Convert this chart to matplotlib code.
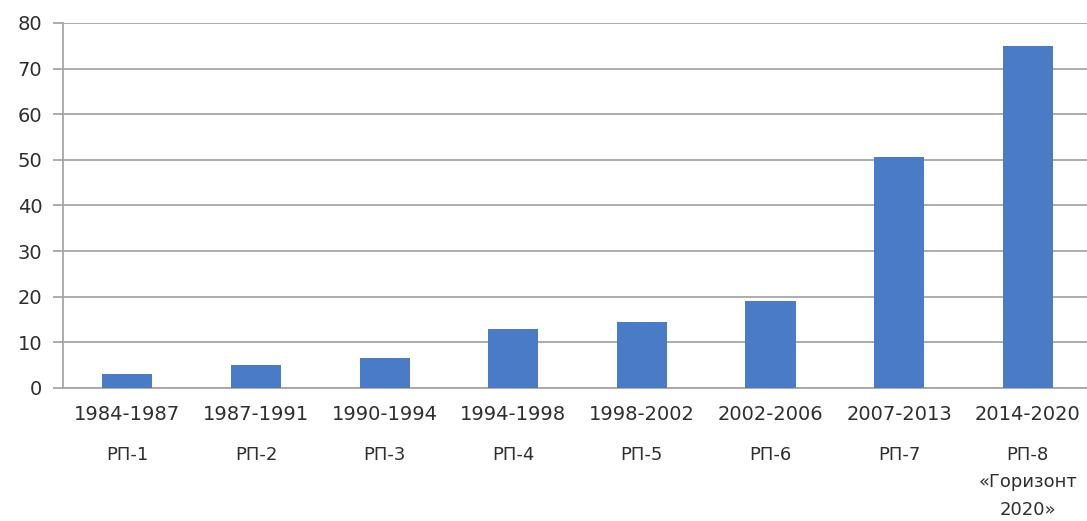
import matplotlib.pyplot as plt

periods = ['1984-1987', '1987-1991', '1990-1994', '1994-1998',
           '1998-2002', '2002-2006', '2007-2013', '2014-2020']
programs = ['РП-1', 'РП-2', 'РП-3', 'РП-4', 'РП-5', 'РП-6', 'РП-7',
            'РП-8\n«Горизонт\n2020»']
budget = [3.1, 5.0, 6.6, 12.9, 14.5, 19.1, 50.7, 75.0]

text_color = '#2e2e2e'
grid_color = '#a6a6a6'

fig = plt.figure(figsize=(10.87, 5.21), dpi=100)
ax = fig.add_axes([0.058, 0.2553, 0.9466, 0.7006])

x = list(range(len(periods)))
ax.bar(x, budget, width=0.39, color='#4a7bc6', zorder=3)

ax.set_xlim(-0.5, len(periods) - 0.5)
ax.set_ylim(0, 80)
ax.set_yticks(range(0, 81, 10))
ax.yaxis.grid(True, color=grid_color, linewidth=1.3, zorder=0)

for side in ['top', 'right']:
    ax.spines[side].set_visible(False)
ax.spines['left'].set_color(grid_color)
ax.spines['left'].set_linewidth(1.3)
ax.spines['bottom'].set_color(grid_color)
ax.spines['bottom'].set_linewidth(1.3)

ax.tick_params(axis='y', length=7, color=grid_color, width=1.3, pad=8,
               labelsize=14, labelcolor=text_color)
ax.set_xticks(x)
ax.set_xticklabels(periods, fontsize=14, color=text_color)
ax.tick_params(axis='x', length=0, pad=12)

trans = ax.get_xaxis_transform()
for i, p in enumerate(programs):
    ax.text(i, -0.16, p, transform=trans, ha='center', va='top',
            fontsize=13, color=text_color, linespacing=1.65)

fig.savefig('out.png', dpi=100)
